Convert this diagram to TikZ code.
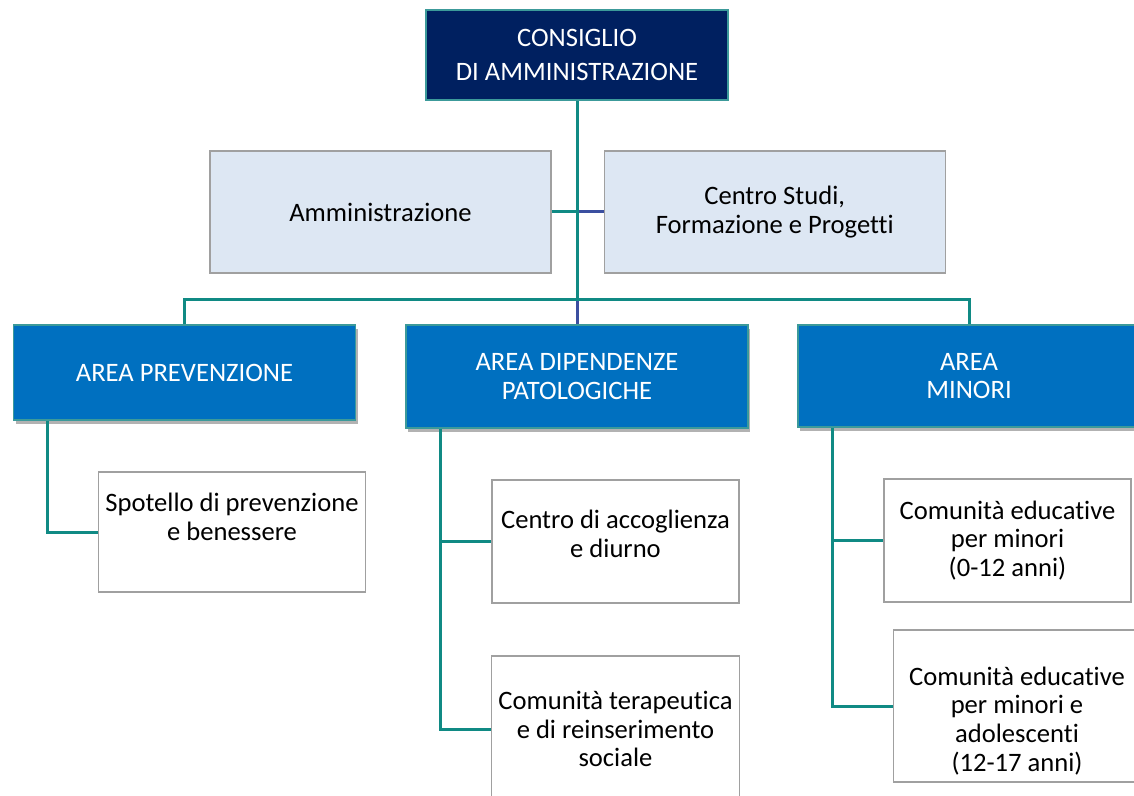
\documentclass[tikz,border=0pt]{standalone}
\usepackage{fontspec}
\setmainfont{Carlito}[Ligatures=NoCommon]
\usepackage{xcolor}
\usepackage{tikz}
\usetikzlibrary{positioning,shadows}

\definecolor{navy}{HTML}{002060}
\definecolor{areablue}{HTML}{0070C0}
\definecolor{staffbg}{HTML}{DDE7F3}
\definecolor{linkteal}{HTML}{108A84}
\definecolor{linknavy}{HTML}{3B4FA0}
\definecolor{edgeteal}{HTML}{3C9A9A}
\definecolor{edgegray}{HTML}{A0A0A0}

\newcommand{\padbelow}[1]{\rule[-#1]{0pt}{#1}}
\newcommand{\padabove}[1]{\rule{0pt}{#1}}

\begin{document}
\begin{tikzpicture}[
			x=0.5pt, y=-0.5pt,
			font=\fontsize{13.3}{14.3}\selectfont,
			board/.style={
					draw=edgeteal, fill=navy, text=white, line width=0.6pt,
					minimum width=151pt, minimum height=45pt, align=center
				},
			staff/.style={
					draw=edgegray, fill=staffbg, line width=0.6pt,
					minimum width=170.5pt, minimum height=61pt, align=center
				},
			area/.style={
					draw=edgeteal, fill=areablue, text=white, line width=0.6pt,
					minimum width=171pt, align=center,
					drop shadow={shadow xshift=1.2pt, shadow yshift=-1.8pt, opacity=0.3, fill=black}
				},
			service/.style={
					draw=edgegray, fill=white, line width=0.6pt,
					minimum width=123.5pt, align=center
				},
			link/.style={draw=linkteal, line width=1.5pt},
			linkblue/.style={draw=linknavy, line width=1.5pt}
		]

		\useasboundingbox (0,0) rectangle (1134,796);

		% Board and staff
		\node[board] (cda) at (577,55) {CONSIGLIO\\[2.7pt]DI AMMINISTRAZIONE};
		\node[staff] (admin) at (380.5,212) {Amministrazione};
		\node[staff, right=26pt of admin] (centro) {Centro Studi,\\Formazione e Progetti};

		% Areas
		\node[area, minimum height=47.5pt] (prev) at (184.5,372.5) {AREA PREVENZIONE};
		\node[area, minimum height=51.5pt] (dip) at (577,376.5) {AREA DIPENDENZE\\PATOLOGICHE};
		\node[area, minimum height=51pt] (min) at (969,376) {AREA\\MINORI};

		% Services
		\node[service, minimum width=133pt, minimum height=60pt] (spot) at (232,532)
		{Spotello di prevenzione\\e benessere\padbelow{15pt}};
		\node[service, minimum height=61.5pt] (acc) at (615.5,541.5)
		{Centro di accoglienza\\e diurno\padbelow{7.5pt}};
		\node[service, minimum height=73pt] (ter) at (615.5,729)
		{Comunità terapeutica\\e di reinserimento\\sociale};
		\node[service, minimum height=61.5pt] (com1) at (1007.5,540.5)
		{Comunità educative\\per minori\\(0-12 anni)};
		\node[service, minimum height=76pt] (com2) at (1017,706)
		{\padabove{24pt}Comunità educative\\per minori e\\adolescenti\\(12-17 anni)};

		% Trunk
		\coordinate (hub) at (577,300);
		\draw[link] (admin.east) -- (admin.east -| cda.south);
		\draw[linkblue] (admin.east -| cda.south) -- (centro.west);
		\draw[link] (cda.south) -- (hub);
		\draw[linkblue] (hub) -- (dip.north);
		\draw[link] (prev.north) |- (hub) -| (min.north);

		% Area stems
		\coordinate (prevstem) at ([xshift=17.5pt]prev.south west);
		\coordinate (dipstem) at ([xshift=17.5pt]dip.south west);
		\coordinate (minstem) at ([xshift=17.5pt]min.south west);
		\draw[link] (prevstem) |- (spot.west);
		\draw[link] (dipstem) |- (ter.west);
		\draw[link] (dipstem |- acc.west) -- (acc.west);
		\draw[link] (minstem) |- (com2.west);
		\draw[link] (minstem |- com1.west) -- (com1.west);

	\end{tikzpicture}
\end{document}
